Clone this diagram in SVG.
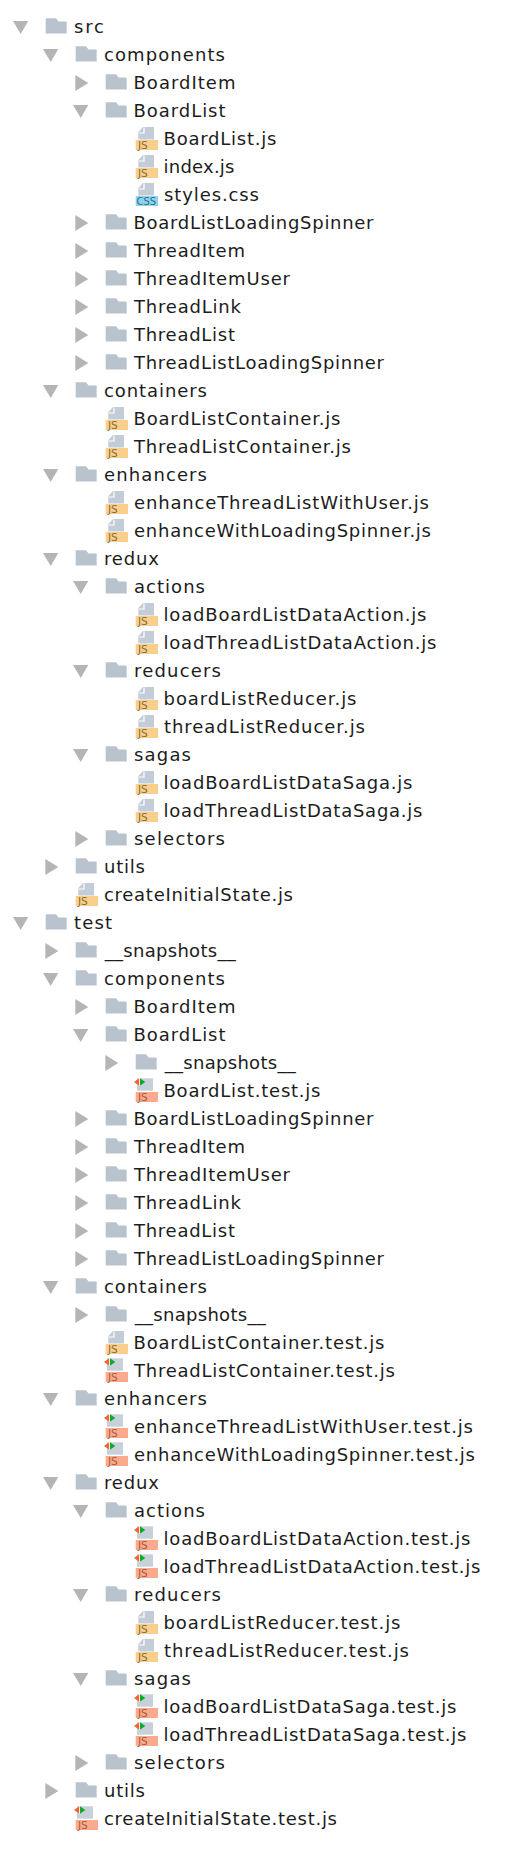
<svg xmlns="http://www.w3.org/2000/svg" width="525" height="1854" viewBox="0 0 525 1854">
<defs>
<style>
text{font-family:"DejaVu Sans","Liberation Sans",sans-serif;font-size:18px;fill:#1c1c1c}
text.b{font-size:10.5px;fill:#8a6a3a}
text.t{fill:#a85a40}
text.c{fill:#2f6f8a;font-size:10px}
</style>
<path id="dn" d="M13 21H28.300L20.700 34Z" fill="#b5b5b5"/>
<path id="rt" d="M15.300 19L28.300 27L15.300 35Z" fill="#b5b5b5"/>
<path id="fo" d="M45.700 18.300H56L58.500 21.500H66.700V33.500H45.700Z" fill="#b9c3cd"/>
<g id="doc"><path d="M53 15H64V27.500H48.300V20Z" fill="#c3cdd7"/><path d="M54 15.500V21H48.800" fill="none" stroke="#fff" stroke-width="1.200"/></g>
<g id="js"><use href="#doc"/><rect x="45.700" y="28" width="22.300" height="10" fill="#f9cf8b"/><text class="b" x="48" y="36.800">JS</text></g>
<g id="css"><use href="#doc"/><rect x="45.700" y="28" width="22.300" height="10" fill="#8fd4ef"/><text class="b c" x="46.500" y="36.800">CSS</text></g>
<g id="jt"><path d="M47 14.300H63V26.700H47Z" fill="#c8d1d9"/><path d="M44 18L49.300 14.300V21.700Z" fill="#f0642c"/><path d="M49.300 14H50V22H49.300Z" fill="#fff"/><path d="M50 14.300L55.300 18L50 21.700Z" fill="#12a82e"/><rect x="45.700" y="28" width="22.300" height="10" fill="#fbab8b"/><text class="b t" x="48" y="36.800">JS</text></g>
</defs>
<rect width="525" height="1854" fill="#fff"/>
<g id="connectors"/>
<g id="n0"><use href="#dn"/><use href="#fo"/><text x="74" y="33" textLength="30">src</text></g>
<g id="n1" transform="translate(30 28)"><use href="#dn"/><use href="#fo"/><text x="74" y="33" textLength="121">components</text></g>
<g id="n2" transform="translate(60 56)"><use href="#rt"/><use href="#fo"/><text x="73.500" y="33" textLength="102">BoardItem</text></g>
<g id="n3" transform="translate(60 84)"><use href="#dn"/><use href="#fo"/><text x="73.500" y="33" textLength="92">BoardList</text></g>
<g id="n4" transform="translate(90 112)"><use href="#js"/><text x="73.500" y="33" textLength="113">BoardList.js</text></g>
<g id="n5" transform="translate(90 140)"><use href="#js"/><text x="73.500" y="33" textLength="71">index.js</text></g>
<g id="n6" transform="translate(90 168)"><use href="#css"/><text x="74" y="33" textLength="95">styles.css</text></g>
<g id="n7" transform="translate(60 196)"><use href="#rt"/><use href="#fo"/><text x="73.500" y="33" textLength="240">BoardListLoadingSpinner</text></g>
<g id="n8" transform="translate(60 224)"><use href="#rt"/><use href="#fo"/><text x="74" y="33" textLength="111">ThreadItem</text></g>
<g id="n9" transform="translate(60 252)"><use href="#rt"/><use href="#fo"/><text x="74" y="33" textLength="156">ThreadItemUser</text></g>
<g id="n10" transform="translate(60 280)"><use href="#rt"/><use href="#fo"/><text x="74" y="33" textLength="107">ThreadLink</text></g>
<g id="n11" transform="translate(60 308)"><use href="#rt"/><use href="#fo"/><text x="74" y="33" textLength="101">ThreadList</text></g>
<g id="n12" transform="translate(60 336)"><use href="#rt"/><use href="#fo"/><text x="74" y="33" textLength="250">ThreadListLoadingSpinner</text></g>
<g id="n13" transform="translate(30 364)"><use href="#dn"/><use href="#fo"/><text x="74" y="33" textLength="103">containers</text></g>
<g id="n14" transform="translate(60 392)"><use href="#js"/><text x="73.500" y="33" textLength="207">BoardListContainer.js</text></g>
<g id="n15" transform="translate(60 420)"><use href="#js"/><text x="74" y="33" textLength="217">ThreadListContainer.js</text></g>
<g id="n16" transform="translate(30 448)"><use href="#dn"/><use href="#fo"/><text x="74" y="33" textLength="103">enhancers</text></g>
<g id="n17" transform="translate(60 476)"><use href="#js"/><text x="74" y="33" textLength="295">enhanceThreadListWithUser.js</text></g>
<g id="n18" transform="translate(60 504)"><use href="#js"/><text x="74" y="33" textLength="297">enhanceWithLoadingSpinner.js</text></g>
<g id="n19" transform="translate(30 532)"><use href="#dn"/><use href="#fo"/><text x="74" y="33" textLength="55">redux</text></g>
<g id="n20" transform="translate(60 560)"><use href="#dn"/><use href="#fo"/><text x="74" y="33" textLength="71">actions</text></g>
<g id="n21" transform="translate(90 588)"><use href="#js"/><text x="73.500" y="33" textLength="263">loadBoardListDataAction.js</text></g>
<g id="n22" transform="translate(90 616)"><use href="#js"/><text x="73.500" y="33" textLength="273">loadThreadListDataAction.js</text></g>
<g id="n23" transform="translate(60 644)"><use href="#dn"/><use href="#fo"/><text x="74" y="33" textLength="87">reducers</text></g>
<g id="n24" transform="translate(90 672)"><use href="#js"/><text x="73.500" y="33" textLength="193">boardListReducer.js</text></g>
<g id="n25" transform="translate(90 700)"><use href="#js"/><text x="74" y="33" textLength="201">threadListReducer.js</text></g>
<g id="n26" transform="translate(60 728)"><use href="#dn"/><use href="#fo"/><text x="74" y="33" textLength="57">sagas</text></g>
<g id="n27" transform="translate(90 756)"><use href="#js"/><text x="73.500" y="33" textLength="249">loadBoardListDataSaga.js</text></g>
<g id="n28" transform="translate(90 784)"><use href="#js"/><text x="73.500" y="33" textLength="259">loadThreadListDataSaga.js</text></g>
<g id="n29" transform="translate(60 812)"><use href="#rt"/><use href="#fo"/><text x="74" y="33" textLength="91">selectors</text></g>
<g id="n30" transform="translate(30 840)"><use href="#rt"/><use href="#fo"/><text x="74" y="33" textLength="41">utils</text></g>
<g id="n31" transform="translate(30 868)"><use href="#js"/><text x="74" y="33" textLength="189">createInitialState.js</text></g>
<g id="n32" transform="translate(0 896)"><use href="#dn"/><use href="#fo"/><text x="74" y="33" textLength="38">test</text></g>
<g id="n33" transform="translate(30 924)"><use href="#rt"/><use href="#fo"/><text x="74.700" y="33" textLength="131">__snapshots__</text></g>
<g id="n34" transform="translate(30 952)"><use href="#dn"/><use href="#fo"/><text x="74" y="33" textLength="121">components</text></g>
<g id="n35" transform="translate(60 980)"><use href="#rt"/><use href="#fo"/><text x="73.500" y="33" textLength="102">BoardItem</text></g>
<g id="n36" transform="translate(60 1008)"><use href="#dn"/><use href="#fo"/><text x="73.500" y="33" textLength="92">BoardList</text></g>
<g id="n37" transform="translate(90 1036)"><use href="#rt"/><use href="#fo"/><text x="74.700" y="33" textLength="131">__snapshots__</text></g>
<g id="n38" transform="translate(90 1064)"><use href="#jt"/><text x="73.500" y="33" textLength="157">BoardList.test.js</text></g>
<g id="n39" transform="translate(60 1092)"><use href="#rt"/><use href="#fo"/><text x="73.500" y="33" textLength="240">BoardListLoadingSpinner</text></g>
<g id="n40" transform="translate(60 1120)"><use href="#rt"/><use href="#fo"/><text x="74" y="33" textLength="111">ThreadItem</text></g>
<g id="n41" transform="translate(60 1148)"><use href="#rt"/><use href="#fo"/><text x="74" y="33" textLength="156">ThreadItemUser</text></g>
<g id="n42" transform="translate(60 1176)"><use href="#rt"/><use href="#fo"/><text x="74" y="33" textLength="107">ThreadLink</text></g>
<g id="n43" transform="translate(60 1204)"><use href="#rt"/><use href="#fo"/><text x="74" y="33" textLength="101">ThreadList</text></g>
<g id="n44" transform="translate(60 1232)"><use href="#rt"/><use href="#fo"/><text x="74" y="33" textLength="250">ThreadListLoadingSpinner</text></g>
<g id="n45" transform="translate(30 1260)"><use href="#dn"/><use href="#fo"/><text x="74" y="33" textLength="103">containers</text></g>
<g id="n46" transform="translate(60 1288)"><use href="#rt"/><use href="#fo"/><text x="74.700" y="33" textLength="131">__snapshots__</text></g>
<g id="n47" transform="translate(60 1316)"><use href="#js"/><text x="73.500" y="33" textLength="251">BoardListContainer.test.js</text></g>
<g id="n48" transform="translate(60 1344)"><use href="#jt"/><text x="74" y="33" textLength="261">ThreadListContainer.test.js</text></g>
<g id="n49" transform="translate(30 1372)"><use href="#dn"/><use href="#fo"/><text x="74" y="33" textLength="103">enhancers</text></g>
<g id="n50" transform="translate(60 1400)"><use href="#jt"/><text x="74" y="33" textLength="339">enhanceThreadListWithUser.test.js</text></g>
<g id="n51" transform="translate(60 1428)"><use href="#jt"/><text x="74" y="33" textLength="341">enhanceWithLoadingSpinner.test.js</text></g>
<g id="n52" transform="translate(30 1456)"><use href="#dn"/><use href="#fo"/><text x="74" y="33" textLength="55">redux</text></g>
<g id="n53" transform="translate(60 1484)"><use href="#dn"/><use href="#fo"/><text x="74" y="33" textLength="71">actions</text></g>
<g id="n54" transform="translate(90 1512)"><use href="#jt"/><text x="73.500" y="33" textLength="307">loadBoardListDataAction.test.js</text></g>
<g id="n55" transform="translate(90 1540)"><use href="#jt"/><text x="73.500" y="33" textLength="317">loadThreadListDataAction.test.js</text></g>
<g id="n56" transform="translate(60 1568)"><use href="#dn"/><use href="#fo"/><text x="74" y="33" textLength="87">reducers</text></g>
<g id="n57" transform="translate(90 1596)"><use href="#js"/><text x="73.500" y="33" textLength="237">boardListReducer.test.js</text></g>
<g id="n58" transform="translate(90 1624)"><use href="#js"/><text x="74" y="33" textLength="245">threadListReducer.test.js</text></g>
<g id="n59" transform="translate(60 1652)"><use href="#dn"/><use href="#fo"/><text x="74" y="33" textLength="57">sagas</text></g>
<g id="n60" transform="translate(90 1680)"><use href="#jt"/><text x="73.500" y="33" textLength="293">loadBoardListDataSaga.test.js</text></g>
<g id="n61" transform="translate(90 1708)"><use href="#jt"/><text x="73.500" y="33" textLength="303">loadThreadListDataSaga.test.js</text></g>
<g id="n62" transform="translate(60 1736)"><use href="#rt"/><use href="#fo"/><text x="74" y="33" textLength="91">selectors</text></g>
<g id="n63" transform="translate(30 1764)"><use href="#rt"/><use href="#fo"/><text x="74" y="33" textLength="41">utils</text></g>
<g id="n64" transform="translate(30 1792)"><use href="#jt"/><text x="74" y="33" textLength="233">createInitialState.test.js</text></g>
</svg>
